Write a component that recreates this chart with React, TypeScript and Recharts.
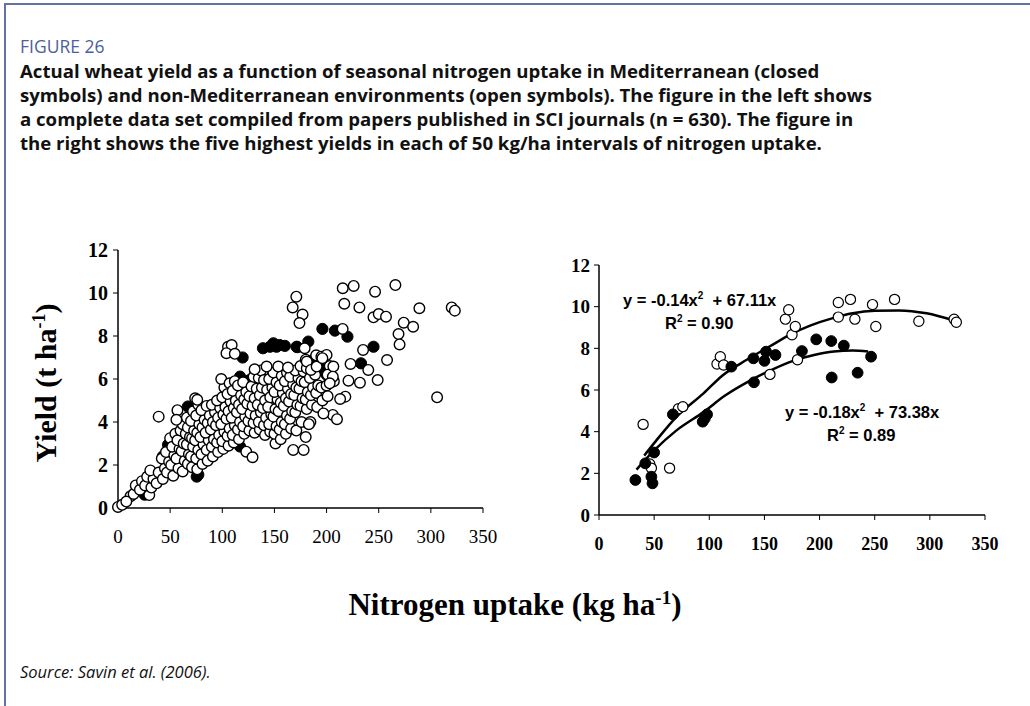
import React from "react";
import { ScatterChart, Scatter, XAxis, YAxis } from "recharts";

type Pt = [number, number];

// x ticks / y ticks shared by both panels
const xTicks = [0, 50, 100, 150, 200, 250, 300, 350];
const yTicks = [0, 2, 4, 6, 8, 10, 12];

// left panel: full data set, open = non-Mediterranean
const leftOpen: Pt[] = [
  [0, 0.05], [4, 0.15], [12, 0.55], [30, 0.6], [39, 4.25], [8, 0.3],
  [15, 0.65], [17, 1.05], [21, 0.85], [23, 1.25], [26, 1.05], [28, 1.45],
  [32, 0.95], [34, 1.35], [31, 1.75], [37, 1.15], [39, 1.65],
  [43, 1.35], [45, 1.85], [42, 2.3], [47, 1.65], [49, 2.15], [46, 2.6], [50, 3.25],
  [53, 1.5], [51, 2.0], [54, 2.45], [52, 2.85], [55, 3.45],
  [58, 1.85], [56, 2.3], [59, 2.75], [57, 3.15], [60, 3.6],
  [62, 1.7], [64, 2.2], [61, 2.65], [63, 3.0], [65, 3.45], [62, 3.9],
  [67, 2.05], [68, 2.5], [66, 2.95], [69, 3.3], [67, 3.75], [66, 4.2],
  [71, 1.9], [70, 2.4], [72, 2.85], [71, 3.25], [73, 3.6], [70, 4.05], [72, 4.5],
  [76, 1.8], [75, 2.3], [77, 2.7], [74, 3.15], [76, 3.5], [78, 3.9], [75, 4.3], [77, 4.8],
  [81, 2.05], [80, 2.5], [82, 2.95], [79, 3.3], [81, 3.75], [83, 4.1], [80, 4.55],
  [86, 2.2], [85, 2.7], [87, 3.15], [84, 3.5], [86, 3.95], [88, 4.3], [85, 4.75],
  [91, 2.4], [90, 2.85], [92, 3.2], [89, 3.65], [91, 4.0], [93, 4.45], [90, 4.8],
  [96, 2.6], [95, 3.05], [97, 3.4], [94, 3.85], [96, 4.2], [98, 4.65], [95, 5.0],
  [101, 2.75], [100, 3.1], [102, 3.55], [99, 3.9], [101, 4.35], [103, 4.7], [100, 5.15], [102, 5.6], [99, 6.0],
  [106, 2.9], [105, 3.35], [107, 3.7], [104, 4.15], [106, 4.5], [108, 4.95], [105, 5.3], [107, 5.8],
  [111, 3.05], [110, 3.4], [112, 3.85], [109, 4.2], [111, 4.65], [113, 5.0], [110, 5.45], [112, 5.9],
  [116, 3.2], [115, 3.65], [117, 4.0], [114, 4.45], [116, 4.8], [118, 5.25], [115, 5.7],
  [121, 3.45], [120, 3.8], [122, 4.25], [119, 4.6], [121, 5.05], [123, 5.4], [120, 5.85],
  [126, 3.6], [125, 4.05], [127, 4.4], [124, 4.85], [126, 5.2], [128, 5.65],
  [131, 3.5], [130, 3.95], [132, 4.3], [129, 4.75], [131, 5.1], [133, 5.55], [130, 6.1],
  [136, 3.65], [135, 4.0], [137, 4.45], [134, 4.8], [136, 5.25], [138, 5.6], [135, 6.05], [137, 6.4],
  [141, 3.4], [140, 3.85], [142, 4.2], [139, 4.65], [141, 5.0], [143, 5.5], [140, 5.95],
  [146, 3.55], [145, 3.9], [147, 4.35], [144, 4.7], [146, 5.15], [148, 5.6], [145, 6.0],
  [151, 3.0], [150, 3.45], [152, 3.8], [149, 4.25], [151, 4.6], [153, 5.05], [150, 5.4], [152, 5.85], [149, 6.3],
  [156, 3.2], [155, 3.65], [157, 4.0], [154, 4.5], [156, 4.9], [158, 5.35], [155, 5.7], [157, 6.15],
  [161, 3.45], [160, 3.9], [162, 4.3], [159, 4.75], [161, 5.1], [163, 5.55], [160, 5.9], [162, 6.3],
  [166, 3.7], [165, 4.15], [167, 4.5], [164, 4.95], [166, 5.3], [168, 5.75], [165, 6.1],
  [171, 3.6], [170, 4.45], [172, 4.8], [169, 5.25], [171, 5.6], [173, 6.05], [170, 6.4],
  [176, 4.0], [175, 4.75], [177, 5.1], [174, 5.55], [176, 5.9], [178, 6.35], [175, 6.6],
  [181, 4.6], [180, 5.05], [182, 5.4], [179, 5.85], [181, 6.5], [180, 6.9],
  [186, 4.8], [185, 5.25], [187, 5.6], [184, 6.05],
  [191, 4.7], [190, 5.35], [192, 5.7], [189, 6.2], [190, 7.1],
  [196, 5.0], [195, 5.6], [201, 5.2], [200, 6.2],
  [171, 9.83], [167.5, 9.33], [177, 9.0], [174, 8.6],
  [215.5, 10.22], [226, 10.33], [217, 9.5], [231.5, 9.33], [246.5, 10.06], [266, 10.37],
  [245, 8.87], [250, 9.02], [257, 8.9], [289, 9.29], [320, 9.33], [323, 9.18],
  [274, 8.62], [283, 8.43], [269, 8.09], [270, 7.61], [258, 6.88], [240, 6.42], [249, 5.95],
  [235, 7.35], [232, 5.83], [223, 6.7], [221, 5.92], [218, 5.18], [213, 5.07], [306, 5.15], [215.4, 8.33],
  [195, 7.04], [200, 7.12], [203, 6.6], [201, 6.2], [207, 5.9], [200, 5.7], [206, 4.33], [210, 4.13],
  [197, 4.4], [184.5, 4.0], [179, 7.43], [206.5, 6.58], [206, 6.11], [203, 5.8],
  [168, 2.7], [178, 2.7], [180, 3.3], [183, 3.9], [123, 2.62], [129, 2.36],
  [131, 6.45], [142.5, 6.58], [153.7, 6.58], [163, 6.53], [181, 6.81], [185, 6.42], [190.5, 6.58], [196, 6.97],
  [105.5, 7.5], [109, 7.58], [104, 7.2], [112, 7.17], [74, 5.1], [76, 5.03], [57, 4.55], [56, 4.1],
];

// left panel: closed = Mediterranean
const leftClosed: Pt[] = [
  [25.6, 0.62], [48, 2.94], [43, 2.4], [56, 3.33], [62.5, 3.6], [67, 4.72], [72, 3.64], [77, 1.55],
  [85, 4.26], [97.7, 4.57], [110.5, 5.65], [117, 2.86], [117, 6.11], [119.5, 7.0], [123, 5.19],
  [126.5, 5.96], [130, 4.88], [136, 6.11], [139, 7.43], [142.5, 5.8], [145.7, 7.5], [149, 7.66],
  [149, 6.27], [152, 7.5], [155, 7.58], [155, 6.42], [160, 7.54], [168, 6.27], [171.3, 7.5],
  [172, 7.48], [182.5, 7.74], [187, 6.73], [187, 6.88], [190, 6.42], [195.5, 6.46], [196, 8.33],
  [208, 8.25], [220, 7.97], [233, 6.73], [245, 7.5], [75.5, 1.46], [92, 2.9],
];

// right panel: five highest yields per 50 kg/ha interval
const rightOpen: Pt[] = [
  [40, 4.35], [46, 2.45], [47.5, 2.25], [64, 2.25], [72, 5.1], [76, 5.2],
  [107, 7.25], [110, 7.6], [113, 7.2], [155, 6.75], [169, 9.4], [172, 9.85],
  [175, 8.65], [178, 9.05], [180, 7.45], [217, 10.2], [217, 9.5], [228, 10.35],
  [232, 9.4], [248, 10.1], [251, 9.05], [268, 10.35], [290, 9.3], [322, 9.4], [324, 9.25],
];

const rightClosed: Pt[] = [
  [33, 1.68], [42, 2.48], [47.5, 1.84], [48.5, 1.52], [50, 3.0], [67, 4.83],
  [94, 4.48], [96, 4.64], [98, 4.83], [120, 7.12], [140, 7.52], [140.5, 6.37],
  [150, 7.4], [151.5, 7.84], [160, 7.68], [184, 7.87], [197, 8.43], [210.6, 8.35],
  [211, 6.6], [222, 8.13], [234.5, 6.83], [246.7, 7.6],
];

// fitted curves
const upperFit: Pt[] = [
  [41, 2.85], [50, 3.45], [70, 4.7], [95, 5.85], [112, 6.7], [134, 7.45], [155, 8.1],
  [173, 8.65], [192, 9.1], [212, 9.45], [230, 9.68], [250, 9.8], [272, 9.82], [297, 9.68], [322, 9.33],
];
const lowerFit: Pt[] = [
  [34, 2.18], [50, 3.1], [70, 4.05], [95, 4.95], [114, 5.72], [137, 6.45], [157, 6.98],
  [176, 7.4], [195, 7.68], [213, 7.85], [230, 7.9], [244, 7.85],
];

const toObj = (a: Pt[]) => a.map(([x, y]) => ({ x, y }));

const serif = "'Liberation Serif', 'Times New Roman', serif";
const sans = "'Liberation Sans', Arial, sans-serif";

const OpenDot = (r: number, sw: number) => (p: any) =>
  <circle cx={p.cx} cy={p.cy} r={r} fill="#fff" stroke="#000" strokeWidth={sw} />;
const FilledDot = (r: number) => (p: any) =>
  <circle cx={p.cx} cy={p.cy} r={r} fill="#000" stroke="#000" strokeWidth={1} />;
const NoDot = () => <g />;

const axisLine = { stroke: "#000", strokeWidth: 1.5 };
const eqStyle: React.CSSProperties = { position: "absolute", fontFamily: sans, fontWeight: 700, fontSize: 16.5, whiteSpace: "nowrap" };

export default function App() {
  return (
    <div style={{ position: "absolute", left: 0, top: 0, width: 1030, height: 706, background: "#fff", overflow: "hidden" }}>
      {/* frame */}
      <div style={{ position: "absolute", left: 4, top: 3, width: 1026, height: 2, background: "#6272a6" }} />
      <div style={{ position: "absolute", left: 4, top: 3, width: 2, height: 703, background: "#6272a6" }} />

      <div style={{ position: "absolute", left: 20, top: 34, fontFamily: "'Open Sans', sans-serif", fontSize: 17.5, color: "#4d5e9e" }}>
        FIGURE 26
      </div>
      <div style={{ position: "absolute", left: 20, top: 59, fontFamily: "'Open Sans', sans-serif", fontSize: 18.6, fontWeight: 700, lineHeight: "24px", color: "#111", whiteSpace: "nowrap" }}>
        <div>Actual wheat yield as a function of seasonal nitrogen uptake in Mediterranean (closed</div>
        <div>symbols) and non-Mediterranean environments (open symbols). The figure in the left shows</div>
        <div>a complete data set compiled from papers published in SCI journals (n = 630). The figure in</div>
        <div>the right shows the five highest yields in each of 50 kg/ha intervals of nitrogen uptake.</div>
      </div>

      {/* left panel */}
      <div style={{ position: "absolute", left: 60, top: 240 }}>
        <ScatterChart width={440} height={320} margin={{ top: 10, right: 17, bottom: 22, left: 18 }}>
          <XAxis type="number" dataKey="x" domain={[0, 350]} ticks={xTicks} interval={0}
            axisLine={axisLine} tickLine={{ stroke: "#000" }} tickSize={5} tickMargin={17} height={30}
            tick={{ fill: "#000", fontFamily: serif, fontSize: 19 }} />
          <YAxis type="number" dataKey="y" domain={[0, 12]} ticks={yTicks} interval={0} width={40}
            axisLine={axisLine} tickLine={{ stroke: "#000" }} tickSize={5} tickMargin={5}
            tick={{ fill: "#000", fontFamily: serif, fontSize: 20, fontWeight: 700 }} />
          <Scatter data={toObj(leftClosed)} shape={FilledDot(5.6)} isAnimationActive={false} />
          <Scatter data={toObj(leftOpen)} shape={OpenDot(5.3, 1.4)} isAnimationActive={false} />
        </ScatterChart>
      </div>

      {/* right panel */}
      <div style={{ position: "absolute", left: 540, top: 255 }}>
        <ScatterChart width={460} height={300} margin={{ top: 10, right: 15, bottom: 12, left: 19 }}>
          <XAxis type="number" dataKey="x" domain={[0, 350]} ticks={xTicks} interval={0}
            axisLine={axisLine} tickLine={{ stroke: "#000" }} tickSize={5} tickMargin={17} height={28}
            tick={{ fill: "#000", fontFamily: serif, fontSize: 18, fontWeight: 700 }} />
          <YAxis type="number" dataKey="y" domain={[0, 12]} ticks={yTicks} interval={0} width={40}
            axisLine={axisLine} tickLine={{ stroke: "#000" }} tickSize={5} tickMargin={4}
            tick={{ fill: "#000", fontFamily: serif, fontSize: 19, fontWeight: 700 }} />
          <Scatter data={toObj(upperFit)} shape={NoDot} line={{ stroke: "#000", strokeWidth: 2.5 }}
            lineJointType="monotoneX" isAnimationActive={false} />
          <Scatter data={toObj(lowerFit)} shape={NoDot} line={{ stroke: "#000", strokeWidth: 2.5 }}
            lineJointType="monotoneX" isAnimationActive={false} />
          <Scatter data={toObj(rightOpen)} shape={OpenDot(5.1, 1.2)} isAnimationActive={false} />
          <Scatter data={toObj(rightClosed)} shape={FilledDot(5.4)} isAnimationActive={false} />
        </ScatterChart>
      </div>

      {/* fit equations */}
      <div style={{ ...eqStyle, left: 623, top: 290 }}>
        y = -0.14x<sup style={{ fontSize: 10 }}>2</sup>&nbsp; + 67.11x
      </div>
      <div style={{ ...eqStyle, left: 665, top: 313 }}>
        R<sup style={{ fontSize: 10 }}>2</sup> = 0.90
      </div>
      <div style={{ ...eqStyle, left: 785, top: 402 }}>
        y = -0.18x<sup style={{ fontSize: 10 }}>2</sup>&nbsp; + 73.38x
      </div>
      <div style={{ ...eqStyle, left: 827, top: 425 }}>
        R<sup style={{ fontSize: 10 }}>2</sup> = 0.89
      </div>

      {/* axis titles */}
      <div style={{ position: "absolute", left: 46, top: 383, transform: "translate(-50%, -50%) rotate(-90deg)", fontFamily: serif, fontWeight: 700, fontSize: 30, whiteSpace: "nowrap" }}>
        Yield (t ha<sup style={{ fontSize: 18 }}>-1</sup>)
      </div>
      <div style={{ position: "absolute", left: 515, top: 605, transform: "translate(-50%, -50%)", fontFamily: serif, fontWeight: 700, fontSize: 31, whiteSpace: "nowrap" }}>
        Nitrogen uptake (kg ha<sup style={{ fontSize: 19 }}>-1</sup>)
      </div>

      <div style={{ position: "absolute", left: 20, top: 660, fontFamily: "'Open Sans', sans-serif", fontStyle: "italic", fontSize: 16.5, color: "#111" }}>
        Source: Savin et al. (2006).
      </div>
    </div>
  );
}
